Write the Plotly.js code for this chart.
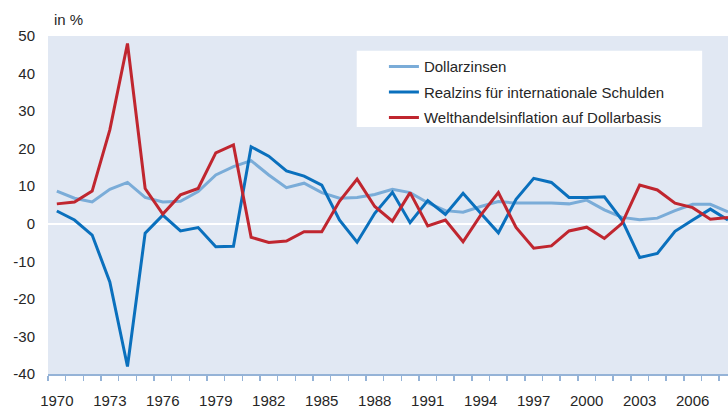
<!DOCTYPE html>
<html>
<head>
<meta charset="utf-8">
<script src="https://cdn.plot.ly/plotly-3.0.1.min.js"></script>
<style>html,body{margin:0;padding:0;background:#fff;}#chart{width:728px;height:407px;}</style>
</head>
<body>
<div id="chart"></div>
<script>
var years = [];
for (var y = 1970; y <= 2008; y++) years.push(y);

var dollarzinsen = [8.7, 6.8, 5.8, 9.2, 11.0, 7.0, 5.8, 6.0, 8.6, 13.0,
  15.2, 16.8, 13.0, 9.6, 10.8, 8.3, 6.8, 7.0, 7.8, 9.2,
  8.3, 5.6, 3.5, 3.1, 4.6, 5.9, 5.5, 5.6, 5.5, 5.3,
  6.3, 3.7, 1.7, 1.1, 1.5, 3.5, 5.2, 5.2, 3.2];

var realzins = [3.4, 1.0, -3.0, -15.5, -38.0, -2.5, 2.3, -1.9, -1.0, -6.1,
  -6.0, 20.5, 18.0, 14.1, 12.7, 10.3, 1.0, -4.9, 2.8, 8.4,
  0.3, 6.2, 2.5, 8.1, 2.8, -2.4, 6.5, 12.1, 11.0, 7.0,
  7.0, 7.2, 1.0, -9.0, -7.9, -2.0, 1.0, 3.9, 1.0];

var inflation = [5.3, 5.8, 8.7, 25.0, 48.0, 9.4, 2.6, 7.7, 9.4, 18.9,
  21.0, -3.6, -5.0, -4.6, -2.1, -2.1, 6.0, 11.9, 4.6, 0.7,
  8.3, -0.6, 1.0, -4.8, 2.3, 8.3, -1.0, -6.5, -5.9, -1.9,
  -0.9, -3.9, 0.1, 10.3, 9.0, 5.5, 4.3, 1.2, 1.7];

var seriesNames = ['Dollarzinsen', 'Realzins für internationale Schulden', 'Welthandelsinflation auf Dollarbasis'];
var xLabels = [1970, 1973, 1976, 1979, 1982, 1985, 1988, 1991, 1994, 1997, 2000, 2003, 2006];
var yTicks = [-40, -30, -20, -10, 0, 10, 20, 30, 40, 50];

var colors = ['#7aacd8', '#0a70bd', '#c0262f'];
var dataSets = [dollarzinsen, realzins, inflation];

var traces = dataSets.map(function (vals, i) {
  return {
    x: years, y: vals, type: 'scatter', mode: 'lines',
    name: seriesNames[i], legendgroup: 'g' + i,
    line: {color: colors[i], width: 3, shape: 'linear'},
    hoverinfo: 'skip'
  };
});

var layout = {
  width: 728, height: 407,
  margin: {l: 48, r: 0, t: 36, b: 33, pad: 0},
  paper_bgcolor: '#ffffff',
  plot_bgcolor: '#e1e8f3',
  font: {family: 'Liberation Sans, Arial, sans-serif', size: 15, color: '#262626'},
  showlegend: true,
  legend: {
    x: 0.494, y: 0.958, xanchor: 'left', yanchor: 'top',
    bgcolor: 'rgba(0,0,0,0)', borderwidth: 0,
    font: {size: 15, color: '#262626'},
    traceorder: 'grouped', tracegroupgap: 3, itemwidth: 30
  },
  xaxis: {
    range: [1969.5, 2008.0],
    tickmode: 'array', tickvals: xLabels, ticktext: xLabels.map(String),
    ticks: '', showgrid: false, zeroline: false,
    showline: true, linecolor: '#95b3d7', linewidth: 1.5,
    ticklabelstandoff: 12,
    tickfont: {size: 15, color: '#262626'},
    minor: {tick0: 1969.5, dtick: 1, ticks: 'outside', ticklen: 5, tickcolor: '#95b3d7', tickwidth: 1.5, showgrid: false}
  },
  yaxis: {
    range: [-40, 50],
    tickmode: 'array', tickvals: yTicks, ticktext: yTicks.map(String),
    ticks: '', showgrid: false, showline: false,
    zeroline: true, zerolinecolor: '#ffffff', zerolinewidth: 2.5,
    ticklabelstandoff: 12,
    tickfont: {size: 15, color: '#262626'}
  },
  shapes: [{
    type: 'rect', xref: 'paper', yref: 'paper',
    x0: 0.454, x1: 0.962, y0: 0.731, y1: 0.956,
    fillcolor: '#ffffff', line: {width: 0}, layer: 'below'
  }],
  annotations: [{
    text: 'in %', xref: 'paper', yref: 'paper', x: 0, y: 1,
    xanchor: 'left', yanchor: 'bottom', xshift: 4, yshift: 6,
    showarrow: false, font: {size: 15, color: '#262626'}
  }]
};

Plotly.newPlot('chart', traces, layout, {staticPlot: true, displayModeBar: false});
</script>
</body>
</html>
